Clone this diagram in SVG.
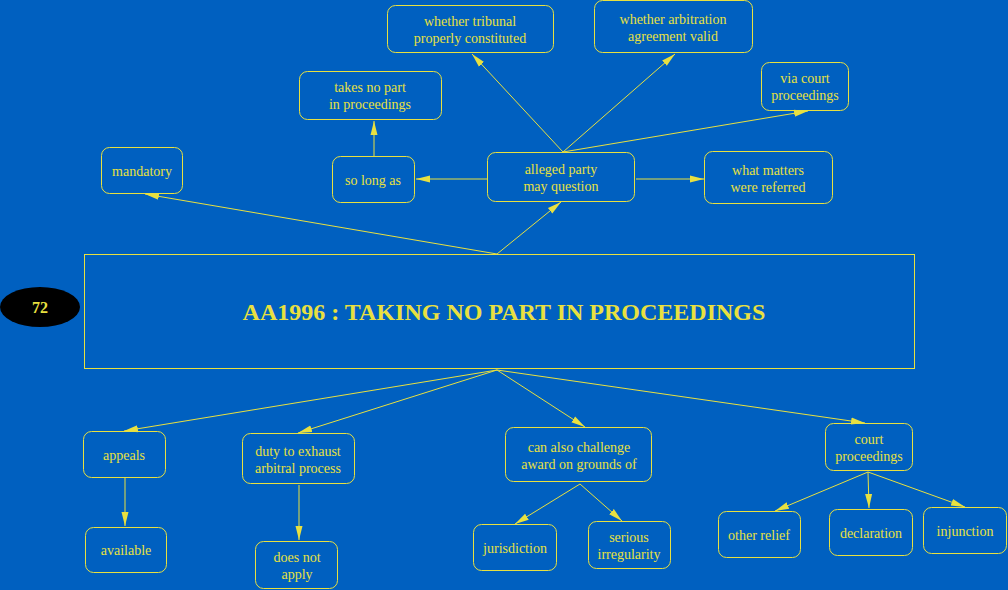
<svg xmlns="http://www.w3.org/2000/svg" width="1008" height="590" viewBox="0 0 1008 590">
<style>
.n rect{fill:none;stroke:#e8e040;stroke-width:1}
.n text{fill:#e8e040;font-family:"Liberation Serif",serif;font-size:14px;text-anchor:middle}
.e line{stroke:#e8e040;stroke-width:1;marker-end:url(#a)}
</style>
<defs>
<marker id="a" viewBox="0 0 14 10" refX="14" refY="5" markerWidth="14" markerHeight="10" markerUnits="userSpaceOnUse" orient="auto">
<path d="M0,1.5 L14,5 L0,8.5 Z" fill="#e8e040"/>
</marker>
</defs>
<rect width="1008" height="590" fill="#0060c0"/>
<g class="e">
<line x1="497" y1="254" x2="145" y2="194"/>
<line x1="497" y1="254" x2="561" y2="202"/>
<line x1="563" y1="152" x2="472" y2="54"/>
<line x1="563" y1="152" x2="675" y2="54"/>
<line x1="563" y1="152" x2="808" y2="111"/>
<line x1="487" y1="179" x2="416" y2="179"/>
<line x1="636" y1="179" x2="704" y2="179"/>
<line x1="374" y1="156" x2="374" y2="121"/>
<line x1="497" y1="370" x2="124" y2="431"/>
<line x1="497" y1="370" x2="298" y2="433"/>
<line x1="497" y1="370" x2="585" y2="427"/>
<line x1="497" y1="370" x2="865" y2="423"/>
<line x1="125" y1="478" x2="125" y2="526"/>
<line x1="299" y1="485" x2="299" y2="540"/>
<line x1="580" y1="484" x2="515" y2="524"/>
<line x1="580" y1="484" x2="622" y2="521"/>
<line x1="868" y1="472" x2="775" y2="511"/>
<line x1="868" y1="472" x2="869" y2="508"/>
<line x1="868" y1="472" x2="965" y2="507"/>
</g>
<g id="main">
<rect x="84.5" y="254.5" width="830" height="114" fill="none" stroke="#e8e040"/>
<text x="504" y="320" fill="#e8e040" font-family="'Liberation Serif',serif" font-size="24" font-weight="bold" text-anchor="middle">AA1996 : TAKING NO PART IN PROCEEDINGS</text>
</g>
<g id="num">
<ellipse cx="40" cy="307" rx="40" ry="20" fill="#000"/>
<text x="40" y="313" fill="#e8e040" font-family="'Liberation Serif',serif" font-size="16" font-weight="bold" text-anchor="middle">72</text>
</g>
<g id="mandatory" class="n"><rect x="101.5" y="147.5" width="81" height="46" rx="8"/><text x="142" y="176">mandatory</text></g>
<g id="solongas" class="n"><rect x="332.5" y="156.5" width="82" height="46" rx="8"/><text x="373" y="185">so long as</text></g>
<g id="takesnopart" class="n"><rect x="299.5" y="71.5" width="142" height="48" rx="8"/><text x="370" y="92">takes no part</text><text x="370" y="109">in proceedings</text></g>
<g id="tribunal" class="n"><rect x="387.5" y="5.5" width="166" height="47" rx="8"/><text x="470" y="26">whether tribunal</text><text x="470" y="43">properly constituted</text></g>
<g id="arbitration" class="n"><rect x="594.5" y="0.5" width="158" height="52" rx="8"/><text x="673" y="24">whether arbitration</text><text x="673" y="41">agreement valid</text></g>
<g id="viacourt" class="n"><rect x="761.5" y="62.5" width="87" height="48" rx="8"/><text x="805" y="83">via court</text><text x="805" y="100">proceedings</text></g>
<g id="alleged" class="n"><rect x="487.5" y="152.5" width="147" height="49" rx="8"/><text x="561" y="174">alleged party</text><text x="561" y="191">may question</text></g>
<g id="whatmatters" class="n"><rect x="704.5" y="151.5" width="128" height="52" rx="8"/><text x="768" y="175">what matters</text><text x="768" y="192">were referred</text></g>
<g id="appeals" class="n"><rect x="83.5" y="431.5" width="82" height="46" rx="8"/><text x="124" y="460">appeals</text></g>
<g id="available" class="n"><rect x="85.5" y="527.5" width="81" height="45" rx="8"/><text x="126" y="555">available</text></g>
<g id="duty" class="n"><rect x="242.5" y="433.5" width="112" height="50" rx="8"/><text x="298" y="456">duty to exhaust</text><text x="298" y="473">arbitral process</text></g>
<g id="doesnot" class="n"><rect x="255.5" y="541.5" width="82" height="47" rx="8"/><text x="297" y="562">does not</text><text x="297" y="579">apply</text></g>
<g id="canalso" class="n"><rect x="505.5" y="427.5" width="146" height="54" rx="8"/><text x="579" y="452">can also challenge</text><text x="579" y="469">award on grounds of</text></g>
<g id="jurisdiction" class="n"><rect x="473.5" y="524.5" width="83" height="46" rx="8"/><text x="515" y="553">jurisdiction</text></g>
<g id="serious" class="n"><rect x="588.5" y="521.5" width="82" height="47" rx="8"/><text x="629" y="542">serious</text><text x="629" y="559">irregularity</text></g>
<g id="courtproc" class="n"><rect x="825.5" y="423.5" width="87" height="47" rx="8"/><text x="869" y="444">court</text><text x="869" y="461">proceedings</text></g>
<g id="otherrelief" class="n"><rect x="718.5" y="511.5" width="82" height="46" rx="8"/><text x="759" y="540">other relief</text></g>
<g id="declaration" class="n"><rect x="829.5" y="509.5" width="83" height="46" rx="8"/><text x="871" y="538">declaration</text></g>
<g id="injunction" class="n"><rect x="923.5" y="507.5" width="83" height="46" rx="8"/><text x="965" y="536">injunction</text></g>
</svg>
